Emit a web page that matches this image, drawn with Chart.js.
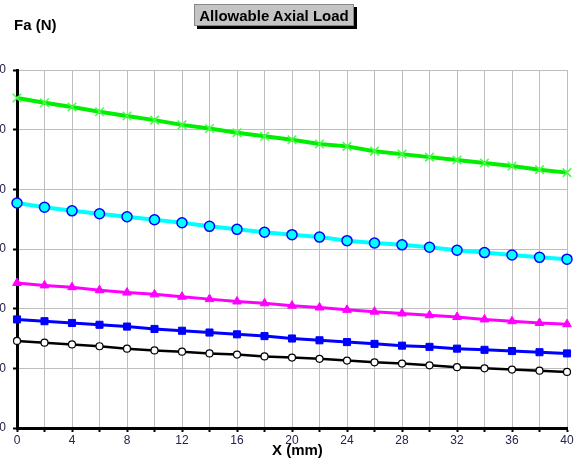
<!DOCTYPE html>
<html>
<head>
<meta charset="utf-8">
<script src="https://cdn.jsdelivr.net/npm/chart.js@4/dist/chart.umd.min.js"></script>
<style>
	html, body { margin: 0; padding: 0; background: #fff; }
	#wrap { position: relative; width: 588px; height: 466px; font-family: 'Liberation Sans', Arial, sans-serif; }
	#chart { position: absolute; left: 0; top: 0; }
	.title-btn {
		position: absolute; left: 194px; top: 4px; width: 160px; height: 22px;
		background: #c4c4c4; border: 1px solid #888; box-shadow: 3px 3px 0 #000;
		font-weight: bold; font-size: 15px; line-height: 21px; text-align: center; color: #000;
		box-sizing: border-box; white-space: nowrap;
	}
	.y-title { position: absolute; left: 14px; top: 16px; font-weight: bold; font-size: 15px; color: #000; }
	.x-title { position: absolute; left: 272px; top: 441px; font-weight: bold; font-size: 15px; color: #000; }
</style>
</head>
<body>
<div id="wrap">
	<canvas id="chart" width="588" height="466"></canvas>
	<div class="title-btn">Allowable Axial Load</div>
	<div class="y-title">Fa (N)</div>
	<div class="x-title">X (mm)</div>
</div>
<script>
// X positions (mm)
const xValues = [0, 2, 4, 6, 8, 10, 12, 14, 16, 18, 20, 22, 24, 26, 28, 30, 32, 34, 36, 38, 40];

// series (N)
const greenSeries = [553, 545, 538, 530, 523, 516, 508, 502, 495, 489, 483, 476, 472, 464, 459, 454, 449, 444, 439, 433, 428];
const cyanSeries = [377, 370, 364, 359, 354, 349, 344, 338, 333, 328, 324, 320, 314, 310, 307, 303, 298, 294, 290, 286, 283];
const magentaSeries = [243, 239, 236, 231, 227, 224, 220, 216, 212, 209, 205, 202, 198, 195, 192, 189, 186, 182, 179, 176, 174];
const blueSeries = [182, 179, 176, 173, 170, 166, 163, 160, 157, 154, 150, 147, 144, 141, 138, 136, 133, 131, 129, 127, 125];
const blackSeries = [146, 143, 140, 137, 133, 130, 128, 125, 123, 120, 118, 116, 113, 110, 108, 105, 102, 100, 98, 96, 94];

const yMin = 0, yMax = 600, yStep = 100;
const xMin = 0, xMax = 40, xStep = 2, xLabelStep = 4;

function toPoints(arr) {
	return arr.map((v, i) => ({x: xValues[i], y: v}));
}

const tickFont = {family: "'Liberation Sans', Arial, sans-serif", size: 12};
const tickColor = '#23234a';

const datasets = [
	{
		data: toPoints(greenSeries),
		borderColor: '#00ee00',
		borderWidth: 4,
		pointStyle: 'crossRot',
		pointRadius: 6,
		pointBorderColor: '#44ff44',
		pointBorderWidth: 1.5,
		pointBackgroundColor: '#44ff44',
	},
	{
		data: toPoints(cyanSeries),
		borderColor: '#00ffff',
		borderWidth: 4,
		pointStyle: 'circle',
		pointRadius: 5,
		pointBorderColor: '#0000ff',
		pointBorderWidth: 1.5,
		pointBackgroundColor: '#00ffff',
	},
	{
		data: toPoints(magentaSeries),
		borderColor: '#ff00ff',
		borderWidth: 3,
		pointStyle: 'triangle',
		pointRadius: 5,
		pointBorderColor: '#ff00ff',
		pointBorderWidth: 1,
		pointBackgroundColor: '#ff00ff',
	},
	{
		data: toPoints(blueSeries),
		borderColor: '#0000ff',
		borderWidth: 3,
		pointStyle: 'rect',
		pointRadius: 5,
		pointBorderColor: '#0000ff',
		pointBorderWidth: 1,
		pointBackgroundColor: '#0000ff',
	},
	{
		data: toPoints(blackSeries),
		borderColor: '#000000',
		borderWidth: 2.5,
		pointStyle: 'circle',
		pointRadius: 3.5,
		pointBorderColor: '#000000',
		pointBorderWidth: 1.2,
		pointBackgroundColor: '#ffffff',
	},
].map(d => Object.assign({type: 'line', tension: 0, clip: false}, d));

new Chart(document.getElementById('chart').getContext('2d'), {
	type: 'line',
	data: {datasets},
	options: {
		responsive: false,
		animation: false,
		layout: {padding: {top: 70, right: 21, left: 0, bottom: 0}},
		plugins: {legend: {display: false}, tooltip: {enabled: false}},
		scales: {
			x: {
				type: 'linear',
				min: xMin,
				max: xMax,
				border: {color: '#000', width: 3},
				grid: {color: '#bdbdbd', lineWidth: 1, tickLength: 4, tickColor: '#000', tickWidth: 2},
				ticks: {
					stepSize: xStep,
					autoSkip: false,
					maxRotation: 0,
					padding: 1,
					color: tickColor,
					font: tickFont,
					callback: v => (v % xLabelStep === 0 ? String(v) : ''),
				},
				afterFit: s => { s.height = 38; },
			},
			y: {
				type: 'linear',
				min: yMin,
				max: yMax,
				border: {color: '#000', width: 3},
				grid: {color: '#bdbdbd', lineWidth: 1, tickLength: 4, tickColor: '#000', tickWidth: 2},
				ticks: {
					stepSize: yStep,
					padding: 7,
					color: tickColor,
					font: tickFont,
				},
				afterFit: s => { s.width = 17; },
			},
		},
	},
});
</script>
</body>
</html>
